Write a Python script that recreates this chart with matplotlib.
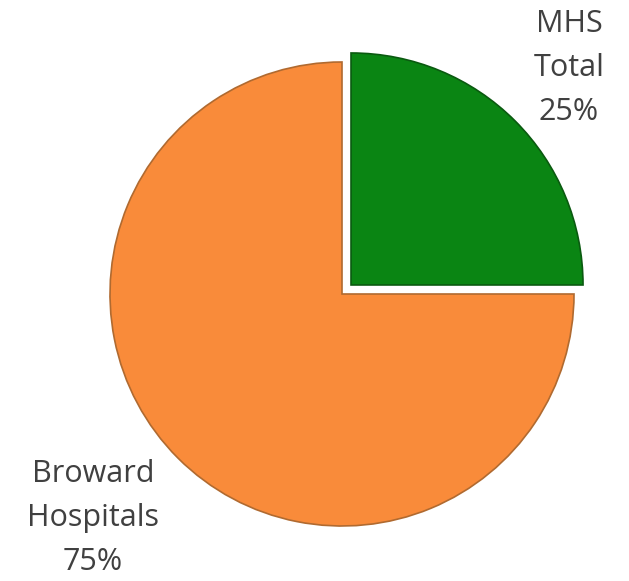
import matplotlib.pyplot as plt

labels = ["MHS\nTotal\n25%", "Broward\nHospitals\n75%"]
shares = [25, 75]
colors = ["#0A8513", "#F98B3A"]

plt.rcParams['font.family'] = ['Open Sans', 'DejaVu Sans']

fig = plt.figure(figsize=(6.29, 5.81), dpi=100)
ax = fig.add_axes([0, 0, 1, 1])

radius = 232
# matplotlib explode is in data units when radius != 1
explode = [0.055 * radius, 0]

wedges, _ = ax.pie(shares, colors=colors, explode=explode, startangle=90,
                   counterclock=False, center=(342, 287), radius=radius,
                   wedgeprops=dict(edgecolor="#b06a30", linewidth=1.2),
                   frame=True)
wedges[0].set_edgecolor("#0a5a10")
ax.set_xlim(0, 629)
ax.set_ylim(0, 581)
ax.set_aspect('equal')
ax.axis('off')

ax.text(569, 513, labels[0], ha="center", va="center", fontsize=22,
        color="#404040", linespacing=1.62)
ax.text(93, 63, labels[1], ha="center", va="center", fontsize=22,
        color="#404040", linespacing=1.62)

plt.savefig("out.png", dpi=100)
